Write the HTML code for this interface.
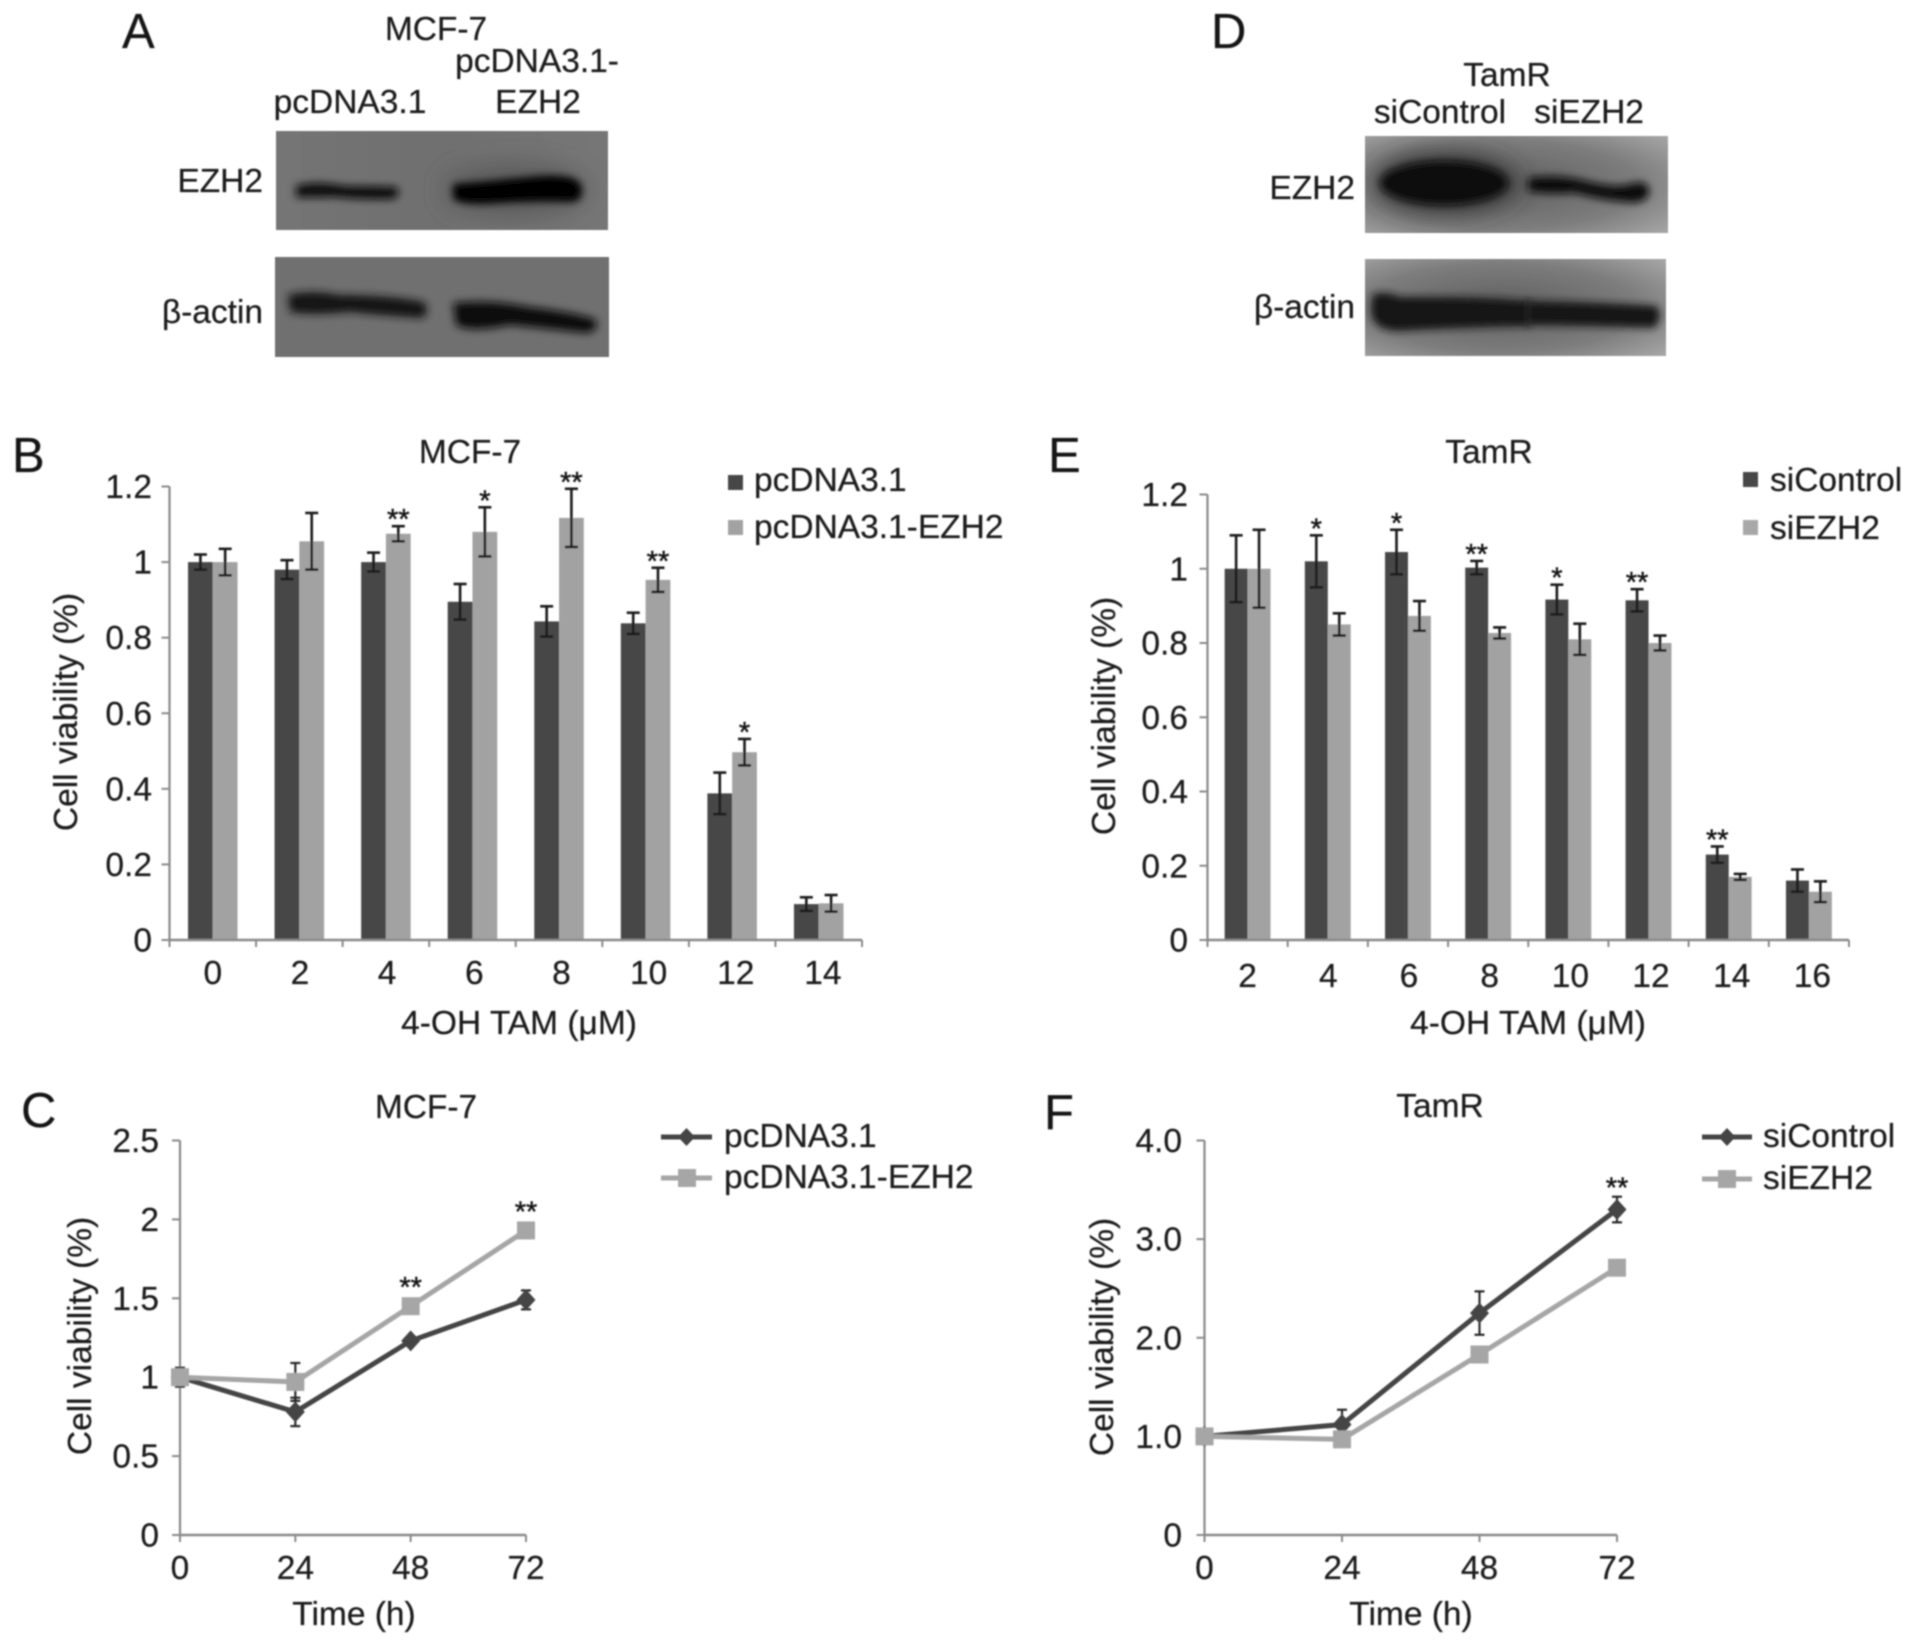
<!DOCTYPE html>
<html>
<head>
<meta charset="utf-8">
<title>EZH2 western blots and cell viability charts</title>
<style>
html,body{margin:0;padding:0;background:#fff;width:1913px;height:1644px;overflow:hidden}
svg{display:block}
text{font-family:"Liberation Sans",Arial,sans-serif;font-size:33.5px;fill:#1e1e1e;stroke:#1e1e1e;stroke-width:0.25px}
.letter{font-size:49px;fill:#141414}
.star{font-size:29px;fill:#161616;stroke-width:0.5px}
</style>
</head>
<body>
<svg id="figure" xmlns="http://www.w3.org/2000/svg" width="1913" height="1644" viewBox="0 0 1913 1644">
<defs>
<filter id="soft" x="-2%" y="-2%" width="104%" height="104%"><feGaussianBlur stdDeviation="0.8"/></filter>
<filter id="bandBlur" x="-30%" y="-80%" width="160%" height="260%"><feGaussianBlur stdDeviation="4"/></filter>
<filter id="haloBlur" x="-30%" y="-60%" width="160%" height="220%"><feGaussianBlur stdDeviation="12"/></filter>
<linearGradient id="gradA" x1="0" y1="0" x2="1" y2="0"><stop offset="0" stop-color="#747474"/><stop offset="0.5" stop-color="#6f6f6f"/><stop offset="1" stop-color="#767676"/></linearGradient>
<radialGradient id="gradD" cx="0.45" cy="0.5" r="0.75"><stop offset="0" stop-color="#5e5e5e"/><stop offset="0.6" stop-color="#7c7c7c"/><stop offset="1" stop-color="#a8a8a8"/></radialGradient>
<clipPath id="clipA1"><rect x="276" y="131" width="332" height="99"/></clipPath>
<clipPath id="clipA2"><rect x="275" y="257" width="334" height="100"/></clipPath>
<clipPath id="clipD1"><rect x="1365" y="136" width="303" height="97"/></clipPath>
<clipPath id="clipD2"><rect x="1365" y="259" width="301" height="97"/></clipPath>
</defs>
<g id="root" filter="url(#soft)">

<g>
<text class="letter" x="122" y="48">A</text>
<text x="436" y="40" text-anchor="middle">MCF-7</text>
<text x="537" y="72" text-anchor="middle">pcDNA3.1-</text>
<text x="350" y="113" text-anchor="middle">pcDNA3.1</text>
<text x="538" y="113" text-anchor="middle">EZH2</text>
<text x="263" y="192" text-anchor="end">EZH2</text>
<text x="263" y="323" text-anchor="end">β-actin</text>
<g clip-path="url(#clipA1)">
<rect x="276" y="131" width="332" height="99" fill="url(#gradA)"/>
<ellipse cx="516" cy="190" rx="72" ry="26" fill="#5c5c5c" filter="url(#haloBlur)"/>
<path d="M296 186 Q315 180 345 186 Q375 186 397 187 Q401 196 393 199 Q360 200 335 197 Q310 198 296 197Z" fill="#0e0e0e" filter="url(#bandBlur)"/>
<path d="M453 184 Q500 180 530 177 Q575 172 581 185 Q585 198 574 202 Q530 201 500 203 Q462 206 453 199Z" fill="#040404" filter="url(#bandBlur)"/>
</g>
<g clip-path="url(#clipA2)">
<rect x="275" y="257" width="334" height="100" fill="#6f6f6f"/>
<path d="M288 295 Q310 289 340 295 Q390 295 424 302 Q431 312 422 318 Q385 316 350 312 Q310 316 290 312Z" fill="#141414" filter="url(#bandBlur)"/>
<path d="M453 303 Q490 299 530 307 Q580 313 596 320 Q599 332 586 333 Q540 328 510 325 Q470 333 456 325Z" fill="#101010" filter="url(#bandBlur)"/>
</g>
</g>

<g>
<text class="letter" x="1211" y="48">D</text>
<text x="1507" y="86" text-anchor="middle">TamR</text>
<text x="1440" y="123" text-anchor="middle">siControl</text>
<text x="1589" y="123" text-anchor="middle">siEZH2</text>
<text x="1355" y="199" text-anchor="end">EZH2</text>
<text x="1355" y="318" text-anchor="end">β-actin</text>
<g clip-path="url(#clipD1)">
<rect x="1365" y="136" width="303" height="97" fill="url(#gradD)"/>
<ellipse cx="1445" cy="183" rx="72" ry="30" fill="#353535" filter="url(#haloBlur)"/>
<ellipse cx="1444" cy="183" rx="64" ry="22" fill="#0c0c0c" filter="url(#bandBlur)"/>
<path d="M1528 178 Q1560 173 1590 182 Q1615 188 1630 184 Q1650 178 1649 194 Q1644 205 1625 202 Q1600 200 1575 193 Q1545 195 1528 191Z" fill="#101010" filter="url(#bandBlur)"/>
</g>
<g clip-path="url(#clipD2)">
<rect x="1365" y="259" width="301" height="97" fill="url(#gradD)"/>
<path d="M1372 295 Q1385 290 1400 297 Q1470 296 1530 301 L1530 326 Q1470 327 1400 331 Q1373 331 1371 312Z" fill="#141414" filter="url(#bandBlur)"/>
<path d="M1526 301 Q1600 302 1657 306 Q1664 318 1654 328 Q1590 326 1526 325Z" fill="#181818" filter="url(#bandBlur)"/>
</g>
</g>

<g id="panel-b">
<text class="letter" x="12" y="472">B</text>
<text x="470" y="463" text-anchor="middle">MCF-7</text>
<text x="519" y="1034" text-anchor="middle">4-OH TAM (μM)</text>
<text transform="translate(77,712) rotate(-90)" text-anchor="middle">Cell viability (%)</text>
<rect x="728" y="475" width="15" height="15" fill="#464646"/>
<text x="754" y="491">pcDNA3.1</text>
<rect x="728" y="520" width="15" height="15" fill="#a2a2a2"/>
<text x="754" y="538">pcDNA3.1-EZH2</text>
</g>

<g id="panel-e">
<text class="letter" x="1048" y="472">E</text>
<text x="1489" y="463" text-anchor="middle">TamR</text>
<text x="1528" y="1034" text-anchor="middle">4-OH TAM (μM)</text>
<text transform="translate(1115,716) rotate(-90)" text-anchor="middle">Cell viability (%)</text>
<rect x="1743" y="472" width="15" height="15" fill="#464646"/>
<text x="1770" y="491">siControl</text>
<rect x="1743" y="520" width="15" height="15" fill="#a8a8a8"/>
<text x="1770" y="539">siEZH2</text>
</g>

<g id="panel-c">
<text class="letter" x="21" y="1127">C</text>
<text x="426" y="1118" text-anchor="middle">MCF-7</text>
<text x="354" y="1625" text-anchor="middle">Time (h)</text>
<text transform="translate(91,1336) rotate(-90)" text-anchor="middle">Cell viability (%)</text>
<g id="legend-c">
<line x1="661" y1="1137" x2="712" y2="1137" stroke="#444" stroke-width="5"/>
<path d="M686.5 1128 L695 1137 L686.5 1146 L678 1137Z" fill="#444"/>
<text x="724" y="1147">pcDNA3.1</text>
<line x1="661" y1="1178" x2="712" y2="1178" stroke="#a6a6a6" stroke-width="5"/>
<rect x="678" y="1169" width="18" height="18" fill="#a6a6a6"/>
<text x="724" y="1188">pcDNA3.1-EZH2</text>
</g>
</g>

<g id="panel-f">
<text class="letter" x="1044" y="1129">F</text>
<text x="1440" y="1117" text-anchor="middle">TamR</text>
<text x="1411" y="1625" text-anchor="middle">Time (h)</text>
<text transform="translate(1113,1337) rotate(-90)" text-anchor="middle">Cell viability (%)</text>
<g id="legend-f">
<line x1="1702" y1="1137" x2="1752" y2="1137" stroke="#444" stroke-width="5"/>
<path d="M1727 1128 L1735.5 1137 L1727 1146 L1718.5 1137Z" fill="#444"/>
<text x="1763" y="1147">siControl</text>
<line x1="1702" y1="1179" x2="1752" y2="1179" stroke="#a6a6a6" stroke-width="5"/>
<rect x="1718" y="1170" width="18" height="18" fill="#a6a6a6"/>
<text x="1763" y="1189">siEZH2</text>
</g>
</g>
</g>
</svg>

<script>
// ---- Panel B data ----
const bCategories = ["0","2","4","6","8","10","12","14"];
const bControlValues = [1.0,0.98,1.0,0.895,0.843,0.838,0.388,0.095];
const bControlErrors = [0.02,0.025,0.025,0.047,0.04,0.028,0.055,0.018];
const bEzh2Values = [1.0,1.055,1.075,1.08,1.117,0.953,0.497,0.097];
const bEzh2Errors = [0.035,0.075,0.02,0.065,0.077,0.032,0.035,0.022];
const bStars = ["","","**","*","**","**","*",""];
const bTickValues = [0,0.2,0.4,0.6,0.8,1.0,1.2];
const bTickLabels = ["0","0.2","0.4","0.6","0.8","1","1.2"];

// ---- Panel E data ----
const eCategories = ["2","4","6","8","10","12","14","16"];
const eControlValues = [1.0,1.02,1.045,1.003,0.917,0.915,0.23,0.16];
const eControlErrors = [0.09,0.07,0.06,0.018,0.04,0.03,0.022,0.03];
const eSiEzh2Values = [1.0,0.85,0.873,0.827,0.81,0.8,0.17,0.13];
const eSiEzh2Errors = [0.105,0.03,0.04,0.015,0.042,0.02,0.008,0.028];
const eStars = ["","*","*","**","*","**","**",""];
const eTickValues = [0,0.2,0.4,0.6,0.8,1.0,1.2];
const eTickLabels = ["0","0.2","0.4","0.6","0.8","1","1.2"];

// ---- Panel C data ----
const cTimes = [0,24,48,72];
const cControlValues = [1.0,0.78,1.23,1.49];
const cControlErrors = [0.06,0.09,0.02,0.06];
const cEzh2Values = [1.0,0.97,1.45,1.93];
const cEzh2Errors = [0.05,0.12,0.02,0.02];
const cStars = ["","","**","**"];
const cTickValues = [0,0.5,1,1.5,2,2.5];
const cTickLabels = ["0","0.5","1","1.5","2","2.5"];

// ---- Panel F data ----
const fTimes = [0,24,48,72];
const fControlValues = [1.0,1.12,2.25,3.3];
const fControlErrors = [0.03,0.15,0.22,0.13];
const fSiEzh2Values = [1.0,0.97,1.83,2.71];
const fSiEzh2Errors = [0.02,0.02,0.03,0.03];
const fStars = ["","","","**"];
const fTickValues = [0,1,2,3,4];
const fTickLabels = ["0","1.0","2.0","3.0","4.0"];

const NS = "http://www.w3.org/2000/svg";
const DARK = "#464646", LIGHT = "#a2a2a2", AXIS = "#8a8a8a";

function mk(tag, attrs, parent, txt) {
  const el = document.createElementNS(NS, tag);
  for (const k in attrs) el.setAttribute(k, attrs[k]);
  if (txt !== undefined) el.textContent = txt;
  parent.appendChild(el);
  return el;
}

function drawAxes(parent, box, tickValues, tickLabels, yMax, yScale) {
  const yAxis = mk("line", {x1:box.left,y1:box.top,x2:box.left,y2:box.bottom,stroke:AXIS,"stroke-width":2.2}, parent);
  
  
  const xAxis = mk("line", {x1:box.left,y1:box.bottom,x2:box.right,y2:box.bottom,stroke:AXIS,"stroke-width":2.6}, parent);
  
  
  tickValues.forEach(function (v, i) {
    const y = yScale(v);
    const t = mk("line", {x1:box.left-8,y1:y,x2:box.left,y2:y,stroke:AXIS,"stroke-width":2}, parent);
    
    
    const l = mk("text", {x:box.labelRight,y:y+11.5,"text-anchor":"end"}, parent, tickLabels[i]);
    
    
  });
}

function drawErr(parent, x, y, yLo, yHi, cap, width, color) {
  const s = mk("line", {x1:x,y1:yLo,x2:x,y2:yHi,stroke:color,"stroke-width":width}, parent);
  
  
  const a = mk("line", {x1:x-cap/2,y1:yHi,x2:x+cap/2,y2:yHi,stroke:color,"stroke-width":width}, parent);
  
  
  const b = mk("line", {x1:x-cap/2,y1:yLo,x2:x+cap/2,y2:yLo,stroke:color,"stroke-width":width}, parent);
  
  
}

function drawStar(parent, x, centerY, str) {
  const s = mk("text", {x:x,y:centerY+16,"text-anchor":"middle","class":"star"}, parent, str);
  
  
}

function barChart(parent, box, cats, v1, e1, v2, e2, stars, starSeries, tickValues, tickLabels, yMax, lightColor) {
  const yScale = function (v) { return box.bottom - (v / yMax) * (box.bottom - box.top); };
  const band = (box.right - box.left) / cats.length;
  const xCenter = function (i) { return box.left + band * (i + 0.5); };
  const bw = band * 0.286;
  cats.forEach(function (c, i) {
    const cx = xCenter(i);
    const r1 = mk("rect", {x:cx-bw,y:yScale(v1[i]),width:bw,height:box.bottom-yScale(v1[i]),fill:DARK}, parent);
    
    
    const r2 = mk("rect", {x:cx,y:yScale(v2[i]),width:bw,height:box.bottom-yScale(v2[i]),fill:lightColor}, parent);
    
    
    drawErr(parent, cx-bw/2, yScale(v1[i]), yScale(v1[i]-e1[i]), yScale(v1[i]+e1[i]), 13, 2.6, "#1a1a1a");
    drawErr(parent, cx+bw/2, yScale(v2[i]), yScale(v2[i]-e2[i]), yScale(v2[i]+e2[i]), 13, 2.6, "#1a1a1a");
    if (stars[i]) {
      const sx = starSeries === 1 ? cx-bw/2 : cx+bw/2;
      const top = starSeries === 1 ? yScale(v1[i]+e1[i]) : yScale(v2[i]+e2[i]);
      drawStar(parent, sx, top-13, stars[i]);
    }
    const tick = mk("line", {x1:box.left+band*(i+1),y1:box.bottom,x2:box.left+band*(i+1),y2:box.bottom+7,stroke:AXIS,"stroke-width":2}, parent);
    
    
    const lab = mk("text", {x:cx+i*box.labelDrift,y:box.xLabelY,"text-anchor":"middle"}, parent, c);
    
    
  });
  const t0 = mk("line", {x1:box.left,y1:box.bottom,x2:box.left,y2:box.bottom+7,stroke:AXIS,"stroke-width":2}, parent);
  
  
  drawAxes(parent, box, tickValues, tickLabels, yMax, yScale);
}

function pointsAttr(times, vals, xScale, yScale) {
  return times.map(function (t, i) { return xScale(t) + "," + yScale(vals[i]); }).join(" ");
}

function lineChart(parent, box, times, v1, e1, v2, e2, stars, starSeries, tickValues, tickLabels, yMax) {
  const yScale = function (v) { return box.bottom - (v / yMax) * (box.bottom - box.top); };
  const tMax = times[times.length - 1];
  const xScale = function (t) { return box.left + (t / tMax) * (box.right - box.left); };
  drawAxes(parent, box, tickValues, tickLabels, yMax, yScale);
  times.forEach(function (t) {
    const x = xScale(t);
    const tick = mk("line", {x1:x,y1:box.bottom,x2:x,y2:box.bottom+7,stroke:AXIS,"stroke-width":2}, parent);
    
    
    const lab = mk("text", {x:x,y:box.xLabelY,"text-anchor":"middle"}, parent, String(t));
    
    
  });
  const l1 = mk("polyline", {points:pointsAttr(times,v1,xScale,yScale),fill:"none",stroke:"#444","stroke-width":5}, parent);
  
  
  times.forEach(function (t, i) {
    const x = xScale(t), y = yScale(v1[i]);
    drawErr(parent, x, y, yScale(v1[i]-e1[i]), yScale(v1[i]+e1[i]), 10, 2.2, "#2a2a2a");
    const d = 10.5;
    const m = mk("path", {d:"M"+x+" "+(y-d)+" L"+(x+d-1)+" "+y+" L"+x+" "+(y+d)+" L"+(x-d+1)+" "+y+"Z",fill:"#444"}, parent);
    
    
  });
  const l2 = mk("polyline", {points:pointsAttr(times,v2,xScale,yScale),fill:"none",stroke:"#a6a6a6","stroke-width":5}, parent);
  
  
  times.forEach(function (t, i) {
    const x = xScale(t), y = yScale(v2[i]);
    drawErr(parent, x, y, yScale(v2[i]-e2[i]), yScale(v2[i]+e2[i]), 10, 2.2, "#2a2a2a");
    const m = mk("rect", {x:x-9,y:y-9,width:18,height:18,fill:"#a6a6a6"}, parent);
    
    
  });
  times.forEach(function (t, i) {
    if (!stars[i]) return;
    const val = starSeries === 1 ? v1[i] : v2[i];
    const err = starSeries === 1 ? e1[i] : e2[i];
    drawStar(parent, xScale(t), Math.min(yScale(val+err)-15, yScale(val)-25), stars[i]);
  });
}

barChart(document.getElementById("panel-b"),
  {left:169.5,right:862,top:486.5,bottom:940,labelRight:152,xLabelY:984,labelDrift:0.6},
  bCategories,bControlValues,bControlErrors,bEzh2Values,bEzh2Errors,bStars,2,bTickValues,bTickLabels,1.2,"#a2a2a2");
barChart(document.getElementById("panel-e"),
  {left:1207.5,right:1849,top:494.5,bottom:940,labelRight:1188,xLabelY:987,labelDrift:0.5},
  eCategories,eControlValues,eControlErrors,eSiEzh2Values,eSiEzh2Errors,eStars,1,eTickValues,eTickLabels,1.2,"#a2a2a2");
lineChart(document.getElementById("panel-c"),
  {left:180,right:526,top:1140.5,bottom:1535,labelRight:159,xLabelY:1579},
  cTimes,cControlValues,cControlErrors,cEzh2Values,cEzh2Errors,cStars,2,cTickValues,cTickLabels,2.5);
lineChart(document.getElementById("panel-f"),
  {left:1204.5,right:1617,top:1140.5,bottom:1535,labelRight:1182,xLabelY:1579},
  fTimes,fControlValues,fControlErrors,fSiEzh2Values,fSiEzh2Errors,fStars,1,fTickValues,fTickLabels,4);
</script>
</body>
</html>
